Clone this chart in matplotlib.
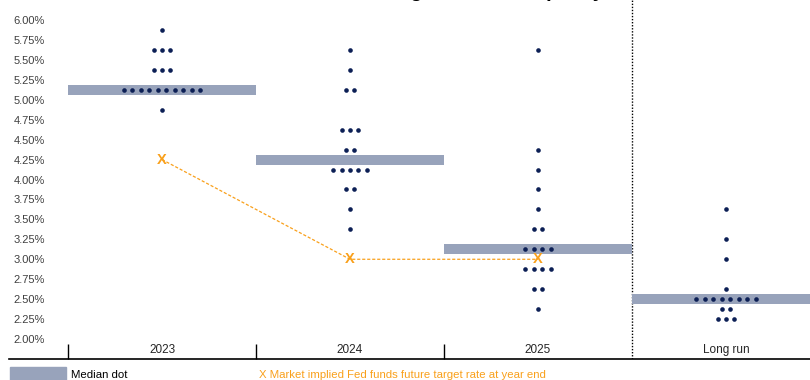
import matplotlib
matplotlib.use("Agg")
import matplotlib.pyplot as plt
from matplotlib.patches import Rectangle

plt.rcParams['font.family'] = ['Liberation Sans', 'DejaVu Sans']

# FOMC projections (dot plot), one list of (rate, count) per horizon
categories = ["2023", "2024", "2025", "Long run"]
dots_2023 = [(5.875, 1), (5.625, 3), (5.375, 3), (5.125, 10), (4.875, 1)]
dots_2024 = [(5.625, 1), (5.375, 1), (5.125, 2), (4.625, 3), (4.375, 2),
             (4.125, 5), (3.875, 2), (3.625, 1), (3.375, 1)]
dots_2025 = [(5.625, 1), (4.375, 1), (4.125, 1), (3.875, 1), (3.625, 1),
             (3.375, 2), (3.125, 4), (2.875, 4), (2.625, 2), (2.375, 1)]
dots_longrun = [(3.625, 1), (3.25, 1), (3.0, 1), (2.625, 1), (2.5, 8),
                (2.375, 2), (2.25, 3)]
medians = [5.125, 4.25, 3.125, 2.5]

# market implied Fed funds futures at year end
market_idx = [0, 1, 2]
market_rate = [4.25, 3.0, 3.0]

yticks = [2.0 + 0.25 * i for i in range(17)]

DOT = "#0c1f55"
MEDIAN = "#98a3bb"
ORANGE = "#f9a01b"

fig = plt.figure(figsize=(8.1, 3.8), dpi=100)
ax = fig.add_axes([68 / 810, 21 / 380, 752 / 810, 359 / 380])

# median bars, full category width
ax.bar(range(len(medians)), [0.125] * len(medians),
       bottom=[m - 0.0625 for m in medians], width=1.0,
       color=MEDIAN, zorder=1)

# participant dots
step = 0.045
for i, col in enumerate([dots_2023, dots_2024, dots_2025, dots_longrun]):
    xs, ys = [], []
    for rate, n in col:
        for k in range(n):
            xs.append(i + (k - (n - 1) / 2) * step)
            ys.append(rate)
    ax.scatter(xs, ys, s=11, color=DOT, zorder=3, linewidths=0)

# market path
ax.plot(market_idx, market_rate, color=ORANGE, lw=0.9,
        linestyle=(0, (2.5, 1.5)), zorder=2)
for x, y in zip(market_idx, market_rate):
    ax.text(x, y, "X", color=ORANGE, fontsize=10.5, fontweight="bold",
            ha="center", va="center", zorder=4)

ax.axvline(2.5, color="black", lw=1, linestyle=(0, (1, 1.2)), zorder=0)

ax.set_xlim(-0.5, 3.5)
ax.set_ylim(1.75, 6.25)

ax.set_yticks(yticks)
ax.set_yticklabels(["%.2f%%" % v for v in yticks])
ax.tick_params(axis="y", length=0, pad=16.5, labelsize=8, labelcolor="#404040")

ax.set_xticks(range(len(categories)))
ax.set_xticklabels(categories)
ax.tick_params(axis="x", which="major", length=0, pad=-6.5, labelsize=8.5,
               labelcolor="#262626")
for lbl in ax.get_xticklabels():
    lbl.set_va("center")
ax.set_xticks([-0.5, 0.5, 1.5], minor=True)
ax.tick_params(axis="x", which="minor", direction="in", length=11, width=1,
               color="black")

for side in ["left", "top", "right", "bottom"]:
    ax.spines[side].set_visible(False)
ax.axhline(1.75, xmin=-59 / 752, xmax=1, color="black", lw=1.2, clip_on=False)

# legend
fig.patches.append(Rectangle((10 / 810, 0), 56 / 810, 13 / 380,
                             transform=fig.transFigure, color=MEDIAN))
fig.text(71 / 810, 5 / 380, "Median dot", fontsize=8.2, va="center")
fig.text(259 / 810, 5 / 380,
         "X Market implied Fed funds future target rate at year end",
         fontsize=8.2, va="center", color=ORANGE)

# title sits mostly above the visible area, as in the source image
fig.text(0.5 - 6 / 810, 1 + 3 / 380, "Dots vs. market reading of the Fed's policy",
         ha="center", va="baseline", fontsize=14.5, fontweight="bold")

fig.savefig("out.png", dpi=100)
